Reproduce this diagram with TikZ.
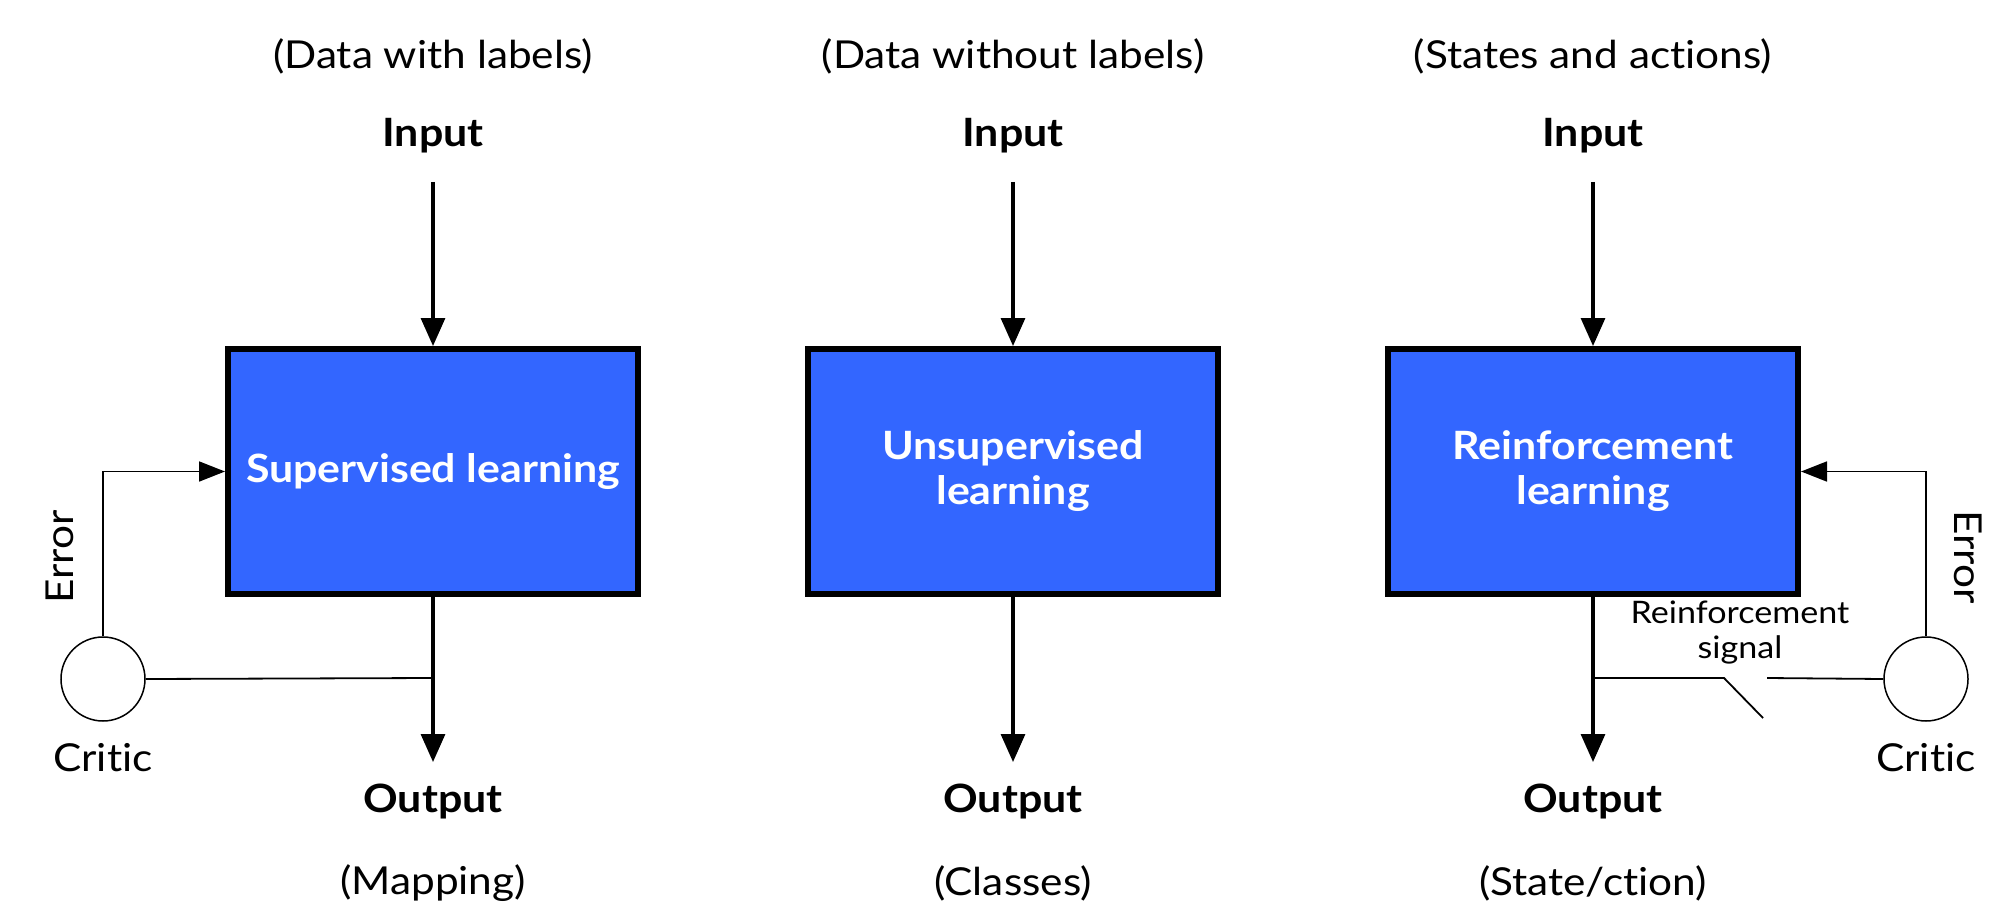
\documentclass[tikz,border=0pt]{standalone}
\usepackage{fontspec}
\setmainfont{Lato}[FakeStretch=1.1, Ligatures=NoCommon]
\usetikzlibrary{arrows.meta}
\definecolor{boxblue}{RGB}{51,102,255}
\tikzset{
  learnbox/.style={draw=black, line width=6pt, fill=boxblue, minimum width=410pt,
    minimum height=245pt, text=white, font=\fontsize{39}{45}\selectfont\bfseries,
    align=center, inner sep=0pt},
  critic/.style={circle, draw=black, line width=1.5pt, fill=white, minimum size=84pt, inner sep=0pt},
  note/.style={font=\fontsize{38.5}{44}\selectfont, inner sep=0pt},
  iolabel/.style={font=\fontsize{39}{44}\selectfont\bfseries, inner sep=0pt},
  small/.style={font=\fontsize{31}{35}\selectfont, align=center, inner sep=0pt},
  flow/.style={line width=3.2pt, -{Triangle[length=28pt, width=24pt]}},
  feedback/.style={line width=1.8pt, -{Triangle[length=26pt, width=20pt]}},
  thin/.style={line width=1.8pt}
}
\begin{document}
\begin{tikzpicture}[x=1pt, y=-1pt]
  \useasboundingbox (0,0) rectangle (2009,912);
  \fill[white] (0,0) rectangle (2009,912);

  % ---- Supervised learning ----
  \node[note]    (topA) at (433,56)  {(Data with labels)};
  \node[iolabel] (inA)  at (433,136) {Input};
  \node[learnbox] (boxA) at (433,471.5) {Supervised learning};
  \node[iolabel] (outA) at (433,802) {Output};
  \node[note]    (botA) at (433,883) {(Mapping)};
  \coordinate (srcA) at (433,182);
  \coordinate (endA) at (433,762);
  \coordinate (tapA) at (433,678);
  \draw[flow] (srcA) -- (boxA.north);
  \draw[flow] (boxA.south) -- (endA);
  \node[critic] (critA) at (103,679) {};
  \node[note] (critAl) at (103,758) {Critic};
  \node[note, rotate=90] (errA) at (60,557) {Error};
  \draw[thin] (critA.east) -- (tapA);
  \draw[feedback] (critA.north) |- (boxA.west);

  % ---- Unsupervised learning ----
  \node[note]    (topB) at (1013,56)  {(Data without labels)};
  \node[iolabel] (inB)  at (1013,136) {Input};
  \node[learnbox] (boxB) at (1013,471.5) {Unsupervised\\learning};
  \node[iolabel] (outB) at (1013,802) {Output};
  \node[note]    (botB) at (1013,883) {(Classes)};
  \coordinate (srcB) at (1013,182);
  \coordinate (endB) at (1013,762);
  \draw[flow] (srcB) -- (boxB.north);
  \draw[flow] (boxB.south) -- (endB);

  % ---- Reinforcement learning ----
  \node[note]    (topC) at (1593,56)  {(States and actions)};
  \node[iolabel] (inC)  at (1593,136) {Input};
  \node[learnbox] (boxC) at (1593,471.5) {Reinforcement\\learning};
  \node[iolabel] (outC) at (1593,802) {Output};
  \node[note]    (botC) at (1593,883) {(State/ction)};
  \coordinate (srcC) at (1593,182);
  \coordinate (endC) at (1593,762);
  \coordinate (tapC) at (1593,678);
  \coordinate (swA) at (1724,678);
  \coordinate (swB) at (1763,718);
  \coordinate (swC) at (1767,678);
  \draw[flow] (srcC) -- (boxC.north);
  \draw[flow] (boxC.south) -- (endC);
  \node[critic] (critC) at (1926,679) {};
  \node[note] (critCl) at (1926,758) {Critic};
  \node[note, rotate=-90] (errC) at (1968,557) {Error};
  \node[small] (sig) at (1740,633) {Reinforcement\\signal};
  \draw[thin] (tapC) -- (swA) -- (swB);
  \draw[thin] (swC) -- (critC.west);
  \draw[feedback] (critC.north) |- (boxC.east);
\end{tikzpicture}
\end{document}
